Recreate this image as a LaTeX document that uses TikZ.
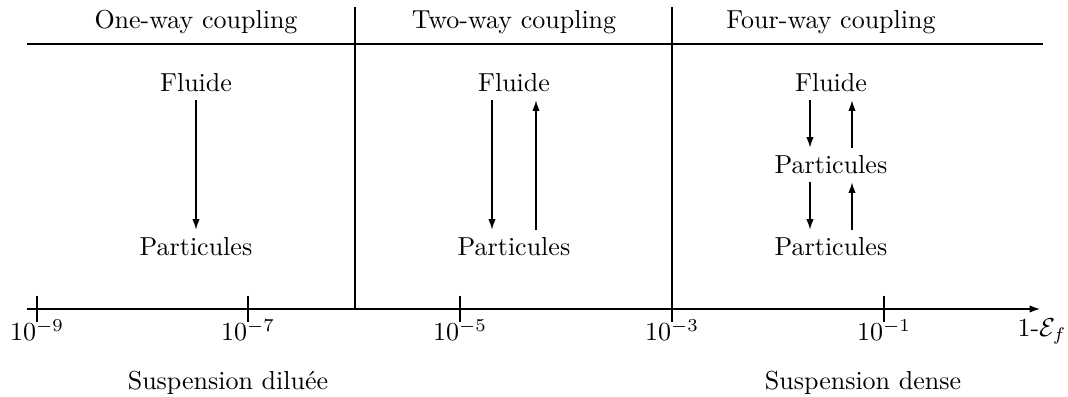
\documentclass[tikz,border=0pt]{standalone}
\usetikzlibrary{calc,arrows.meta}
\begin{document}
\begin{tikzpicture}[x=0.3846pt,y=-0.3846pt,
  lbl/.style={inner sep=3pt},
  arr/.style={-{Latex[length=4pt,width=2.8pt]}}]
\useasboundingbox (0,0) rectangle (1068,397);
% frame lines
\coordinate (hl) at (27,44);
\coordinate (hr) at (1043,44);
\coordinate (v1t) at (355,7);
\coordinate (v1b) at (355,309);
\coordinate (v2t) at (672,7);
\coordinate (v2b) at (672,309);
\coordinate (al) at (27,309);
\coordinate (ar) at (1040,309);
\draw (hl) -- (hr);
\draw (v1t) -- (v1b);
\draw (v2t) -- (v2b);
\draw[arr] (al) -- (ar);
% headers
\node[lbl] (h1) at (196,22) {One-way coupling};
\node[lbl] (h2) at (514,22) {Two-way coupling};
\node[lbl] (h3) at (831,22) {Four-way coupling};
% one-way
\node[lbl] (f1) at (196,83) {Fluide};
\node[lbl] (p1) at (196,247) {Particules};
\draw[arr] (f1) -- (p1);
% two-way
\node[lbl] (f2) at (514,83) {Fluide};
\node[lbl] (p2) at (514,247) {Particules};
\draw[arr] ($(f2.south)+(-22,0)$) -- ($(p2.north)+(-22,0)$);
\draw[arr] ($(p2.north)+(22,0)$) -- ($(f2.south)+(22,0)$);
% four-way
\node[lbl] (f3) at (831,83) {Fluide};
\node[lbl] (p3) at (831,165) {Particules};
\node[lbl] (q3) at (831,247) {Particules};
\draw[arr] ($(f3.south)+(-21,0)$) -- ($(p3.north)+(-21,0)$);
\draw[arr] ($(p3.north)+(21,0)$) -- ($(f3.south)+(21,0)$);
\draw[arr] ($(p3.south)+(-21,0)$) -- ($(q3.north)+(-21,0)$);
\draw[arr] ($(q3.north)+(21,0)$) -- ($(p3.south)+(21,0)$);
% ticks
\foreach \x/\e/\n in {37/-9/t1,248/-7/t2,460/-5/t3,672/-3/t4,884/-1/t5}{
  \coordinate (\n a) at (\x,296);
  \coordinate (\n b) at (\x,322);
  \draw (\n a) -- (\n b);
  \node[lbl] (\n l) at (\x,330) {$10^{\e}$};
}
\node[lbl] (axl) at (1042,331) {1-$\mathcal{E}_f$};
% bottom labels
\node[lbl] (sd) at (228,383) {Suspension dilu\'ee};
\node[lbl] (sn) at (863,383) {Suspension dense};
\end{tikzpicture}
\end{document}
